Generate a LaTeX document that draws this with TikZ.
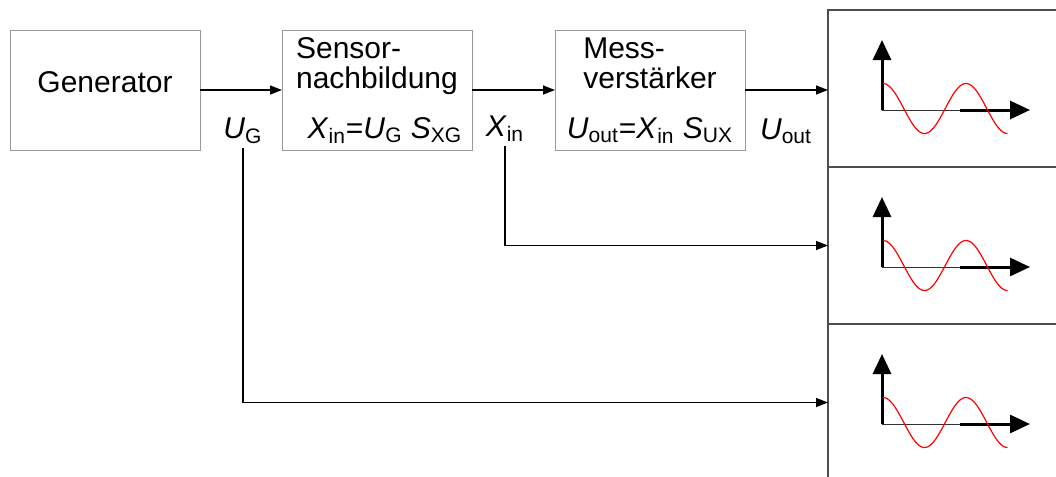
\documentclass[tikz,border=0pt]{standalone}
\usepackage{fontspec}
\setmainfont{Liberation Sans}
\usepackage{tikz}
\usetikzlibrary{positioning,arrows.meta}
\definecolor{framegray}{HTML}{9A9A9A}
\definecolor{panelgray}{HTML}{4D4D4D}
\definecolor{wavered}{HTML}{FF0000}
\newcommand{\sgnl}[2]{\textit{#1}\textsubscript{#2}}

\begin{document}
\begin{tikzpicture}[
  x=0.5pt, y=-0.5pt,
  node distance=0pt and 41pt,
  box/.style={draw=framegray, line width=0.5pt, align=center, minimum width=95pt,
              minimum height=60pt, inner sep=0pt, outer sep=0pt,
              font=\fontsize{15}{15}\selectfont},
  panel/.style={draw=panelgray, line width=0.8pt, minimum width=130pt,
              minimum height=78.5pt, inner sep=0pt, outer sep=0pt},
  sig/.style={font=\fontsize{15}{18}\selectfont, inner sep=2pt},
  arrow/.style={-{Triangle[length=6pt,width=4.5pt]}, line width=0.7pt},
  axis/.style={-{Triangle[length=10pt,width=9pt]}, line width=1.5pt},
  thinaxis/.style={line width=0.5pt, draw=black!80},
  wave/.style={draw=wavered, line width=0.6pt}
]
\useasboundingbox (0,0) rectangle (1056,477);
\node[box] (gen) at (105,90) {\raisebox{4pt}[\height][\depth]{Generator}};
\node[box, right=of gen] (sensor) {\rlap{Sensor-}\phantom{nachbildung}\\nachbildung\\[10pt]\hspace*{8pt}\sgnl{X}{in}=\sgnl{U}{G} \sgnl{S}{XG}};
\node[box, right=41.5pt of sensor] (mess) {\rlap{Mess-}\phantom{verstärker}\\verstärker\\[10pt]\sgnl{U}{out}=\sgnl{X}{in} \sgnl{S}{UX}};
\node[panel, anchor=north west] (scope1) at (828,10) {};
\node[panel, below=of scope1] (scope2) {};
\node[panel, below=of scope2] (scope3) {};
\node[sig] (ug) at (243,131) {\sgnl{U}{G}};
\node[sig] (xin) at (505,129) {\sgnl{X}{in}};
\node[sig] (uout) at (786,131) {\sgnl{U}{out}};
\draw[arrow] (gen) -- (sensor);
\draw[arrow] (sensor) -- (mess);
\draw[arrow] (mess.east) -- (mess.east -| scope1.west);
\draw[arrow] (xin.south) |- (scope2.west);
\draw[arrow] (ug.south) |- (scope3.west);
\foreach \s in {scope1,scope2,scope3}{
  \coordinate (o) at ([shift={(54,100)}]\s.north west);
  \begin{scope}[shift={(o)}]
    \draw[thinaxis] (0,0) -- (80,0);
    \draw[axis] (0,0) -- (0,-70);
    \draw[axis] (78,0) -- (148,0);
    \draw[wave] plot[domain=0:540, samples=90] ({1+\x/360*83}, {-1.5-25*cos(\x)});
  \end{scope}
}
\end{tikzpicture}
\end{document}
